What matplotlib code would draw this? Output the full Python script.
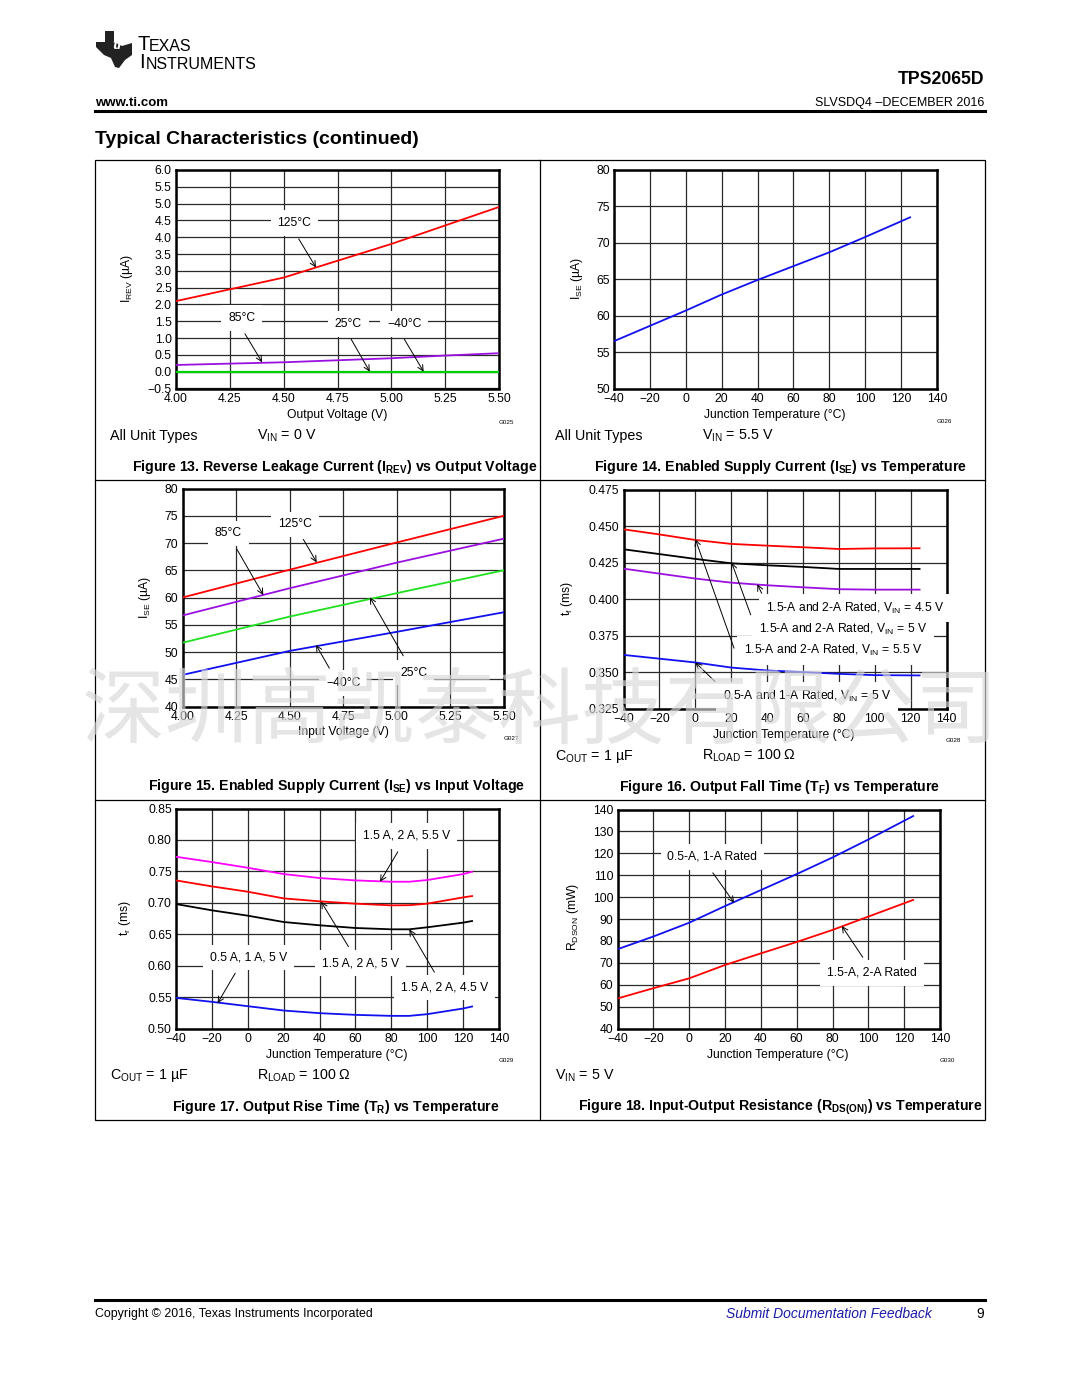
import matplotlib
matplotlib.use("Agg")
import matplotlib.pyplot as plt
from matplotlib.patches import Polygon, Rectangle
from matplotlib.lines import Line2D

plt.rcParams['font.family'] = ['Liberation Sans', 'DejaVu Sans']
plt.rcParams['mathtext.fontset'] = 'custom'
plt.rcParams['mathtext.rm'] = 'Liberation Sans'
plt.rcParams['mathtext.bf'] = 'Liberation Sans:bold'
plt.rcParams['mathtext.it'] = 'Liberation Sans:italic'

# ---- data ----
# Figure 13: reverse leakage current vs output voltage
f13_v = [4.00, 4.25, 4.50, 4.75, 5.00, 5.25, 5.50]
f13_125 = [2.10, 2.45, 2.80, 3.30, 3.80, 4.35, 4.90]
f13_85 = [0.20, 0.24, 0.28, 0.34, 0.40, 0.48, 0.55]
f13_25 = [0.0, 0.0, 0.0, 0.0, 0.0, 0.0, 0.0]
f13_m40 = [0.0, 0.0, 0.0, 0.0, 0.0, 0.0, 0.0]

# Figure 14: enabled supply current vs temperature
f14_t = [-40, -20, 0, 20, 40, 60, 80, 100, 125]
f14_ise = [56.5, 58.6, 60.7, 62.9, 64.9, 66.8, 68.7, 70.8, 73.5]

# Figure 15: enabled supply current vs input voltage
f15_v = [4.00, 4.50, 5.00, 5.50]
f15_125 = [60.0, 65.1, 70.1, 75.0]
f15_85 = [56.7, 61.7, 66.4, 70.8]
f15_25 = [51.7, 56.5, 60.8, 65.0]
f15_m40 = [45.8, 50.2, 53.7, 57.3]

# Figure 16: output fall time vs temperature
f16_t = [-40, -20, 0, 20, 40, 60, 80, 100, 125]
f16_55 = [0.4480, 0.4445, 0.4407, 0.4380, 0.4368, 0.4357, 0.4345, 0.4349, 0.4350]
f16_5 = [0.4343, 0.4310, 0.4277, 0.4247, 0.4233, 0.4222, 0.4208, 0.4208, 0.4208]
f16_45 = [0.4210, 0.4176, 0.4142, 0.4114, 0.4096, 0.4082, 0.4069, 0.4066, 0.4066]
f16_low = [0.3618, 0.3592, 0.3566, 0.3531, 0.3511, 0.3500, 0.3488, 0.3479, 0.3477]

# Figure 17: output rise time vs temperature
f17_t = [-40, -20, 0, 20, 40, 60, 80, 90, 100, 120, 125]
f17_55 = [0.7732, 0.7648, 0.7557, 0.7457, 0.7394, 0.7356, 0.7335, 0.7335, 0.7362, 0.7457, 0.7494]
f17_5 = [0.7356, 0.7261, 0.7176, 0.7070, 0.7023, 0.6986, 0.6959, 0.6962, 0.6986, 0.7086, 0.7107]
f17_45 = [0.6980, 0.6880, 0.6795, 0.6694, 0.6642, 0.6599, 0.6578, 0.6578, 0.6610, 0.6684, 0.6710]
f17_low = [0.5487, 0.5424, 0.5355, 0.5286, 0.5244, 0.5217, 0.5201, 0.5201, 0.5228, 0.5318, 0.5350]

# Figure 18: input-output resistance vs temperature
f18_t = [-40, -20, 0, 20, 40, 60, 80, 100, 125]
f18_low = [76.2, 82.0, 88.3, 95.9, 103.2, 110.5, 118.1, 126.3, 137.0]
f18_high = [53.7, 58.4, 62.9, 69.0, 74.3, 79.5, 85.0, 91.1, 98.7]

temp_ticks = [-40, -20, 0, 20, 40, 60, 80, 100, 120, 140]
volt_ticks = [4.00, 4.25, 4.50, 4.75, 5.00, 5.25, 5.50]

W, H = 1080, 1398
fig = plt.figure(figsize=(W / 100, H / 100), dpi=100)

def fx(px):
    return px / W

def fy(py):
    return 1 - py / H

def ftext(px, py, s, **kw):
    fig.text(fx(px), fy(py), s, **kw)

def make_ax(l, t, r, b, xlim, ylim, xticks, yticks, xfmt, yfmt):
    ax = fig.add_axes([fx(l), fy(b), (r - l) / W, (b - t) / H])
    ax.set_xlim(xlim)
    ax.set_ylim(ylim)
    ax.set_xticks(xticks)
    ax.set_yticks(yticks)
    ax.set_xticklabels([xfmt.format(v).replace('-', '\u2212') for v in xticks])
    ax.set_yticklabels([yfmt.format(v).replace('-', '\u2212') for v in yticks])
    ax.grid(True, color='#2a2a2a', lw=0.9)
    ax.set_axisbelow(True)
    ax.tick_params(length=0, pad=3, labelsize=8.7)
    for sp in ax.spines.values():
        sp.set_linewidth(1.8)
    return ax

def arrow(ax, start, end):
    ax.annotate('', xy=end, xytext=start,
                arrowprops=dict(arrowstyle='->', lw=0.7, color='black',
                                shrinkA=0, shrinkB=0), zorder=4)

def label(ax, x, y, s, start=None, end=None):
    if start is not None:
        arrow(ax, start, end)
    ax.text(x, y, s, ha='center', va='center', fontsize=8.7, zorder=5,
            bbox=dict(fc='white', ec='none', pad=5))

VIN = r'V$_\mathregular{IN}$'

# ---------- Figure 13 ----------
ax = make_ax(176, 170, 499, 388.5, (4.0, 5.5), (-0.5, 6.0), volt_ticks,
             [-0.5 + 0.5 * i for i in range(14)], '{:.2f}', '{:.1f}')
ax.plot(f13_v, f13_m40, color='#3030ff', lw=1.3, zorder=3)
ax.plot(f13_v, f13_25, color='#00d000', lw=1.6, zorder=3)
ax.plot(f13_v, f13_85, color='#9a10e0', lw=1.3, zorder=3)
ax.plot(f13_v, f13_125, color='#ff0000', lw=1.3, zorder=3)
label(ax, 4.55, 4.42, '125°C', (4.57, 3.95), (4.65, 3.10))
label(ax, 4.305, 1.59, '85°C', (4.32, 1.13), (4.40, 0.28))
label(ax, 4.80, 1.41, '25°C', (4.813, 0.97), (4.90, 0.0))
label(ax, 5.06, 1.41, '\u221240°C', (5.06, 0.97), (5.15, 0.0))

# ---------- Figure 14 ----------
ax = make_ax(614, 170, 937, 388.5, (-40, 140), (50, 80), temp_ticks,
             [50, 55, 60, 65, 70, 75, 80], '{:d}', '{:d}')
ax.plot(f14_t, f14_ise, color='#1010f0', lw=1.3, zorder=3)

# ---------- Figure 15 ----------
ax = make_ax(182.5, 488.5, 504, 706.5, (4.0, 5.5), (40, 80), volt_ticks,
             [40, 45, 50, 55, 60, 65, 70, 75, 80], '{:.2f}', '{:d}')
ax.plot(f15_v, f15_m40, color='#1010f0', lw=1.3, zorder=3)
ax.plot(f15_v, f15_25, color='#20e020', lw=1.3, zorder=3)
ax.plot(f15_v, f15_85, color='#9a10e0', lw=1.3, zorder=3)
ax.plot(f15_v, f15_125, color='#ff0000', lw=1.3, zorder=3)
label(ax, 4.525, 73.4, '125°C', (4.564, 70.66), (4.626, 66.45))
label(ax, 4.214, 71.76, '85°C', (4.253, 68.9), (4.377, 60.46))
label(ax, 5.079, 46.23, '25°C', (5.03, 49.3), (4.874, 60.04))
label(ax, 4.75, 44.3, '\u221240°C', (4.685, 47.03), (4.623, 51.3))

# ---------- Figure 16 ----------
ax = make_ax(623.5, 490, 946.5, 708.5, (-40, 140), (0.325, 0.475), temp_ticks,
             [0.325, 0.350, 0.375, 0.400, 0.425, 0.450, 0.475], '{:d}', '{:.3f}')
ax.plot(f16_t, f16_low, color='#1010f0', lw=1.3, zorder=3)
ax.plot(f16_t, f16_45, color='#9a10e0', lw=1.3, zorder=3)
ax.plot(f16_t, f16_5, color='black', lw=1.3, zorder=3)
ax.plot(f16_t, f16_55, color='#ff0000', lw=1.3, zorder=3)
arrow(ax, (37.0, 0.4041), (34.6, 0.4103))
arrow(ax, (30.9, 0.3893), (20.3, 0.4251))
arrow(ax, (21.6, 0.3664), (0.07, 0.4412))
arrow(ax, (11.0, 0.3435), (0.07, 0.3566))
label(ax, 89.0, 0.3940, '1.5-A and 2-A Rated, ' + VIN + ' = 4.5 V')
label(ax, 82.5, 0.3794, '1.5-A and 2-A Rated, ' + VIN + ' = 5 V')
label(ax, 76.9, 0.3650, '1.5-A and 2-A Rated, ' + VIN + ' = 5.5 V')
label(ax, 62.1, 0.3334, '0.5-A and 1-A Rated, ' + VIN + ' = 5 V')

# ---------- Figure 17 ----------
ax = make_ax(176, 808.5, 499, 1028.5, (-40, 140), (0.50, 0.85), temp_ticks,
             [0.50, 0.55, 0.60, 0.65, 0.70, 0.75, 0.80, 0.85], '{:d}', '{:.2f}')
ax.plot(f17_t, f17_low, color='#1010f0', lw=1.3, zorder=3)
ax.plot(f17_t, f17_45, color='black', lw=1.3, zorder=3)
ax.plot(f17_t, f17_5, color='#ff0000', lw=1.3, zorder=3)
ax.plot(f17_t, f17_55, color='#ff00ff', lw=1.3, zorder=3)
label(ax, 88.6, 0.8065, '1.5 A, 2 A, 5.5 V', (83.6, 0.7811), (73.7, 0.7334))
label(ax, 62.6, 0.6039, '1.5 A, 2 A, 5 V', (56.1, 0.6302), (40.9, 0.7017))
label(ax, 109.5, 0.5651, '1.5 A, 2 A, 4.5 V', (104, 0.5896), (90, 0.6578))
label(ax, 0.4, 0.6128, '0.5 A, 1 A, 5 V', (-7, 0.588), (-16.8, 0.5403))

# ---------- Figure 18 ----------
ax = make_ax(617.5, 809.5, 940, 1028.5, (-40, 140), (40, 140), temp_ticks,
             list(range(40, 141, 10)), '{:d}', '{:d}')
ax.plot(f18_t, f18_low, color='#1010f0', lw=1.3, zorder=3)
ax.plot(f18_t, f18_high, color='#ff0000', lw=1.3, zorder=3)
label(ax, 13.0, 118.4, '0.5-A, 1-A Rated', (13.2, 111.1), (25.1, 97.4))
label(ax, 102.2, 65.5, '1.5-A, 2-A Rated', (96.9, 72.5), (85.2, 86.8))

# ---------- axis titles, conditions, captions ----------
ylabels = [(126.7, 278, r'I$_\mathregular{REV}$ (µA)'),
           (576.7, 278, r'I$_\mathregular{SE}$ (µA)'),
           (145, 597, r'I$_\mathregular{SE}$ (µA)'),
           (566.7, 598, r't$_\mathregular{f}$ (ms)'),
           (125, 918, r't$_\mathregular{r}$ (ms)'),
           (573.3, 917, r'R$_\mathregular{DSON}$ (mW)')]
for px, py, s in ylabels:
    ftext(px, py, s, rotation=90, ha='center', va='center', fontsize=8.7)

xlabels = [(337, 415, 'Output Voltage (V)'),
           (775, 415, 'Junction Temperature (°C)'),
           (343, 732, 'Input Voltage (V)'),
           (784, 735, 'Junction Temperature (°C)'),
           (337, 1055, 'Junction Temperature (°C)'),
           (778, 1055, 'Junction Temperature (°C)')]
for px, py, s in xlabels:
    ftext(px, py, s, ha='center', va='center', fontsize=8.7)

glabels = [(506, 422, 'G025'), (944, 421, 'G026'), (511, 738, 'G027'),
           (953, 740, 'G028'), (506, 1060, 'G029'), (947, 1060, 'G030')]
for px, py, s in glabels:
    ftext(px, py, s, ha='center', va='center', fontsize=4.5)

conds = [(110, 436, 'All Unit Types'), (257, 436, VIN + ' = 0 V'),
         (555, 436, 'All Unit Types'), (702, 436, VIN + ' = 5.5 V'),
         (555, 756, r'C$_\mathregular{OUT}$ = 1 µF'),
         (702, 756, r'R$_\mathregular{LOAD}$ = 100 Ω'),
         (110, 1076, r'C$_\mathregular{OUT}$ = 1 µF'),
         (257, 1076, r'R$_\mathregular{LOAD}$ = 100 Ω'),
         (555, 1076, VIN + ' = 5 V')]
for px, py, s in conds:
    ftext(px, py, s, ha='left', va='center', fontsize=10.3)

captions = [(335, 467, r'Figure 13. Reverse Leakage Current (I$_\mathbf{REV}$) vs Output Voltage'),
            (781, 467, r'Figure 14. Enabled Supply Current (I$_\mathbf{SE}$) vs Temperature'),
            (336, 786, r'Figure 15. Enabled Supply Current (I$_\mathbf{SE}$) vs Input Voltage'),
            (780, 787, r'Figure 16. Output Fall Time (T$_\mathbf{F}$) vs Temperature'),
            (336, 1107, r'Figure 17. Output Rise Time (T$_\mathbf{R}$) vs Temperature'),
            (780, 1107, r'Figure 18. Input-Output Resistance (R$_\mathbf{DS(ON)}$) vs Temperature')]
for px, py, s in captions:
    ftext(px, py, s, ha='center', va='center', fontsize=10.2, fontweight='bold')

# panel frame
fig.add_artist(Rectangle((fx(95), fy(1120)), fx(985) - fx(95), fy(160) - fy(1120),
                         fill=False, lw=0.9, ec='black', transform=fig.transFigure))
fig.add_artist(Line2D([fx(540), fx(540)], [fy(160), fy(1120)], lw=0.9, color='black'))
for py in (480, 800):
    fig.add_artist(Line2D([fx(95), fx(985)], [fy(py), fy(py)], lw=0.9, color='black'))

# ---------- page header ----------
logo = [(105, 31), (114, 31), (114, 42), (122, 46), (132, 43), (132, 55), (125, 60),
        (119, 68), (115, 67), (111, 58), (104, 55), (96, 47), (96, 42), (105, 42)]
fig.add_artist(Polygon([(fx(a), fy(b)) for a, b in logo], closed=True, fc='#222222',
                       ec='none', transform=fig.transFigure))
ftext(117, 45, 'ti', color='white', fontsize=11, fontweight='bold', style='italic',
      ha='center', va='center')
ftext(137, 45, 'T', fontsize=14.5, ha='left', va='center')
ftext(148.5, 46.5, 'EXAS', fontsize=11.5, ha='left', va='center')
ftext(139.5, 63, 'I', fontsize=14.5, ha='left', va='center')
ftext(145.5, 64.5, 'NSTRUMENTS', fontsize=11.5, ha='left', va='center')
ftext(984, 80, 'TPS2065D', fontsize=12.7, fontweight='bold', ha='right', va='center')
ftext(95, 103, 'www.ti.com', fontsize=9.5, fontweight='bold', ha='left', va='center')
ftext(984, 103, 'SLVSDQ4 \u2013DECEMBER 2016', fontsize=9, ha='right', va='center')
fig.add_artist(Line2D([fx(95), fx(985)], [fy(111), fy(111)], lw=2.2, color='black'))
ftext(95, 140, 'Typical Characteristics (continued)', fontsize=14, fontweight='bold',
      ha='left', va='center')

# ---------- footer ----------
fig.add_artist(Line2D([fx(95), fx(985)], [fy(1300), fy(1300)], lw=2.2, color='black'))
ftext(95, 1314, 'Copyright © 2016, Texas Instruments Incorporated', fontsize=8.9,
      ha='left', va='center')
ftext(932, 1314, 'Submit Documentation Feedback', fontsize=10, style='italic',
      color='#1a1aa8', ha='right', va='center')
ftext(984, 1314, '9', fontsize=10, ha='right', va='center')

# watermark
ftext(540, 712, '深圳高凯泰科技有限公司', fontsize=60, family=['Noto Sans CJK SC'],
      color='#d8d8d8', alpha=0.65, ha='center', va='center', zorder=20)

fig.savefig('out.png', dpi=100)
